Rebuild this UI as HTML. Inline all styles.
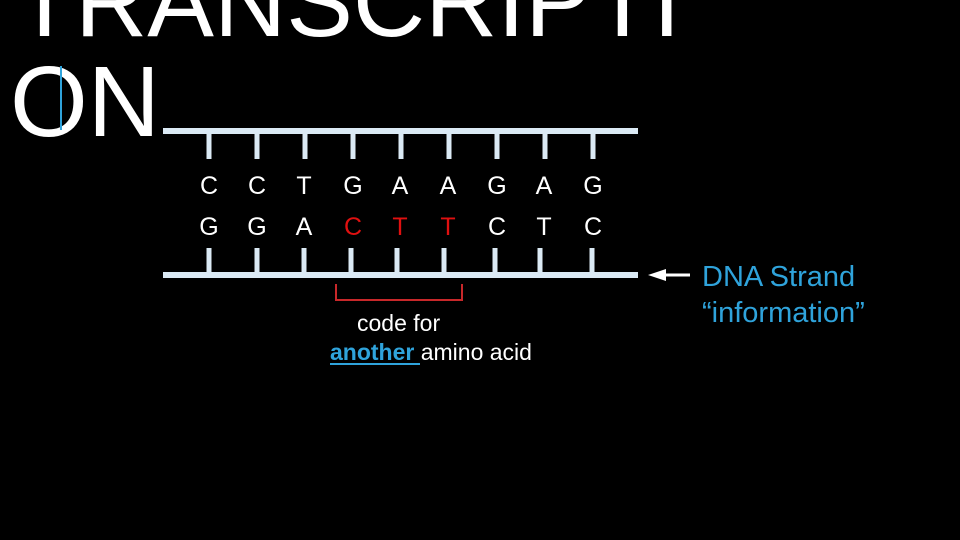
<!DOCTYPE html>
<html><head><meta charset="utf-8"><style>
body{margin:0;width:960px;height:540px;background:#000;overflow:hidden;position:relative;font-family:"Liberation Sans",Arial,sans-serif}
.t{position:absolute;color:#fff;white-space:nowrap}
</style></head><body>
<div class="t" style="left:14px;top:-48px;font-size:100px;line-height:100px;">TRANSCRIPTI</div>
<div class="t" style="left:10px;top:52px;font-size:100px;line-height:100px;">ON</div>
<div style="position:absolute;left:60px;top:66px;width:2px;height:64px;background:#2fa3db"></div>
<svg width="960" height="540" style="position:absolute;left:0;top:0">
<g stroke="#dbeaf5" stroke-width="6">
<line x1="163" y1="131" x2="638" y2="131"/>
<line x1="163" y1="275" x2="638" y2="275"/>
</g>
<g stroke="#dbeaf5" stroke-width="5">
<line x1="209" y1="131" x2="209" y2="159"/><line x1="257" y1="131" x2="257" y2="159"/><line x1="305" y1="131" x2="305" y2="159"/><line x1="353" y1="131" x2="353" y2="159"/><line x1="401" y1="131" x2="401" y2="159"/><line x1="449" y1="131" x2="449" y2="159"/><line x1="497" y1="131" x2="497" y2="159"/><line x1="545" y1="131" x2="545" y2="159"/><line x1="593" y1="131" x2="593" y2="159"/>
<line x1="209" y1="248" x2="209" y2="275"/><line x1="257" y1="248" x2="257" y2="275"/><line x1="304" y1="248" x2="304" y2="275"/><line x1="351" y1="248" x2="351" y2="275"/><line x1="397" y1="248" x2="397" y2="275"/><line x1="444" y1="248" x2="444" y2="275"/><line x1="495" y1="248" x2="495" y2="275"/><line x1="540" y1="248" x2="540" y2="275"/><line x1="592" y1="248" x2="592" y2="275"/>
</g>
<g font-family="Liberation Sans, Arial, sans-serif" font-size="25" fill="#fff" text-anchor="middle">
<text x="209" y="194">C</text><text x="257" y="194">C</text><text x="304" y="194">T</text><text x="353" y="194">G</text><text x="400" y="194">A</text><text x="448" y="194">A</text><text x="497" y="194">G</text><text x="544" y="194">A</text><text x="593" y="194">G</text>
<text x="209" y="235">G</text><text x="257" y="235">G</text><text x="304" y="235">A</text>
<text x="353" y="235" fill="#e01010">C</text><text x="400" y="235" fill="#e01010">T</text><text x="448" y="235" fill="#e01010">T</text>
<text x="497" y="235">C</text><text x="544" y="235">T</text><text x="593" y="235">C</text>
</g>
<polyline points="336,284 336,300 462,300 462,284" fill="none" stroke="#c8282a" stroke-width="2"/>
<line x1="665" y1="275" x2="690" y2="275" stroke="#fff" stroke-width="3"/>
<polygon points="648,275 666,269 666,281" fill="#fff"/>
<g font-family="Liberation Sans, Arial, sans-serif" font-size="23" fill="#fff">
<text x="357" y="331">code for</text>
<text x="330" y="360"><tspan fill="#2fa3db" font-weight="bold">another</tspan> amino acid</text>
</g>
<line x1="330" y1="364" x2="420" y2="364" stroke="#2fa3db" stroke-width="2"/>
<g font-family="Liberation Sans, Arial, sans-serif" font-size="29" fill="#2fa3db">
<text x="702" y="286">DNA Strand</text>
<text x="702" y="322">“information”</text>
</g>
</svg>
</body></html>
